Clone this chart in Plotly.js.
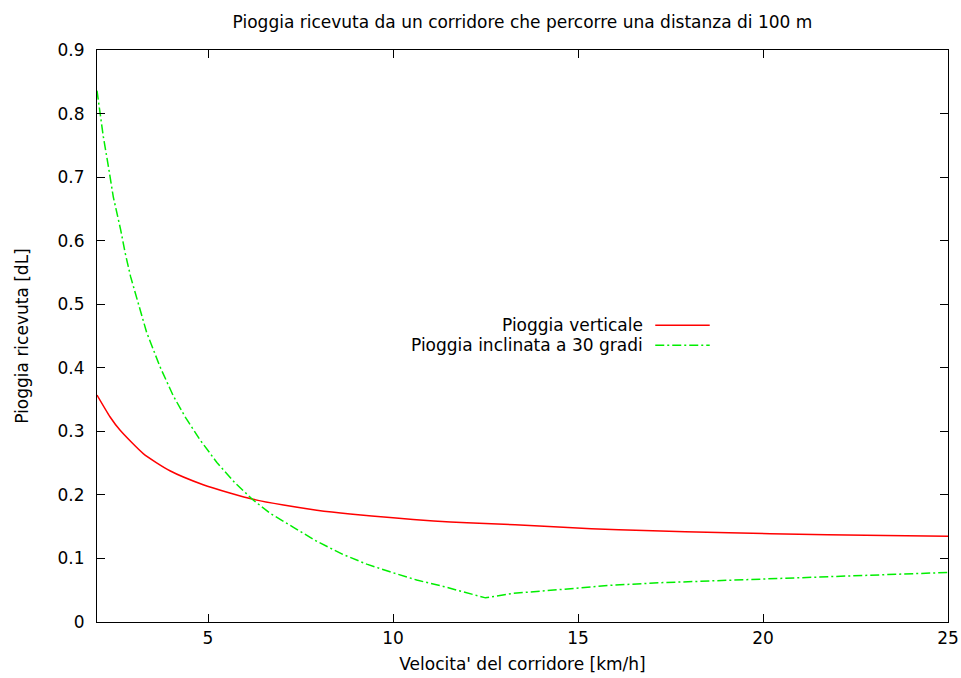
<!DOCTYPE html>
<html>
<head>
<meta charset="utf-8">
<script src="https://cdn.plot.ly/plotly-3.0.1.min.js"></script>
<style>html,body{margin:0;padding:0;background:#fff;}#chart{width:961px;height:678px;}</style>
</head>
<body>
<div id="chart"></div>
<script>
// Series names
const seriesNames = ["Pioggia verticale", "Pioggia inclinata a 30 gradi"];

// Pioggia verticale (speed km/h, rain dL)
const speedVert = [2.0, 2.35, 2.62, 3.25, 3.97, 4.87, 5.59, 6.22, 7.04, 7.94, 8.84, 10.0, 11.1, 12.0, 13.3, 14.6, 16.1, 17.9, 20.2, 23.3, 25.0];
const rainVert  = [0.357, 0.323, 0.302, 0.265, 0.238, 0.216, 0.203, 0.193, 0.184, 0.176, 0.170, 0.164, 0.159, 0.156, 0.153, 0.149, 0.145, 0.142, 0.139, 0.136, 0.135];

// Pioggia inclinata a 30 gradi
const speedIncl = [2.0, 2.17, 2.31, 2.44, 2.64, 2.76, 2.91, 3.12, 3.34, 3.70, 4.06, 4.38, 4.78, 5.24, 5.73, 6.22, 6.68, 7.31, 7.94, 8.66, 9.29, 9.92, 10.64, 11.36, 11.99, 12.5, 13.25, 14.6, 15.95, 17.3, 18.66, 20.0, 21.36, 22.71, 24.06, 25.0];
const rainIncl  = [0.836, 0.764, 0.716, 0.669, 0.617, 0.581, 0.543, 0.501, 0.456, 0.402, 0.356, 0.323, 0.287, 0.251, 0.219, 0.192, 0.171, 0.149, 0.127, 0.106, 0.091, 0.079, 0.066, 0.056, 0.046, 0.038, 0.045, 0.051, 0.058, 0.062, 0.065, 0.068, 0.071, 0.074, 0.077, 0.078];

const titleText = "Pioggia ricevuta da un corridore che percorre una distanza di 100 m";
const xTitle = "Velocita' del corridore [km/h]";
const yTitle = "Pioggia ricevuta [dL]";

const FONT = "DejaVu Sans, Liberation Sans, sans-serif";
const FS = 17;
const colors = ["#ff0000", "#00ee00"];
const dashes = ["solid", "9px,3px,2px,3px"];

const traces = [
  {x: speedVert, y: rainVert, name: seriesNames[0], type: "scatter", mode: "lines",
   line: {color: colors[0], width: 1.5, dash: dashes[0], shape: "spline", smoothing: 0.6}},
  {x: speedIncl, y: rainIncl, name: seriesNames[1], type: "scatter", mode: "lines",
   line: {color: colors[1], width: 1.5, dash: dashes[1]}}
];

// legend drawn gnuplot-style: text right-aligned, sample to the right
const legX = 0.644, legY = [0.519, 0.484], sampleX = [0.656, 0.720];
const annotations = seriesNames.map((n, i) => ({
  xref: "paper", yref: "paper", x: legX, y: legY[i], xanchor: "right", yanchor: "middle",
  text: n, showarrow: false, font: {family: FONT, size: FS, color: "#000"}
}));
const shapes = seriesNames.map((n, i) => ({
  type: "line", xref: "paper", yref: "paper", x0: sampleX[0], x1: sampleX[1], y0: legY[i], y1: legY[i],
  line: {color: colors[i], width: 1.5, dash: dashes[i]}
}));

const layout = {
  width: 961, height: 678,
  margin: {l: 97, r: 13, t: 50, b: 56},
  paper_bgcolor: "#fff", plot_bgcolor: "#fff",
  showlegend: false,
  font: {family: FONT, size: FS, color: "#000"},
  title: {text: titleText, x: 0.5, xref: "paper", y: 1 - 22/678, yref: "container", yanchor: "middle",
          font: {family: FONT, size: FS, color: "#000"}},
  xaxis: {range: [2, 25], tick0: 0, dtick: 5, ticks: "inside", ticklen: 8, tickcolor: "#000",
          showline: true, linecolor: "#000", linewidth: 1, mirror: "ticks", showgrid: false, zeroline: false,
          ticklabelstandoff: 1, tickfont: {family: FONT, size: FS},
          title: {text: xTitle, standoff: 10, font: {family: FONT, size: FS}}},
  yaxis: {range: [0, 0.9], tick0: 0, dtick: 0.1, ticks: "inside", ticklen: 8, tickcolor: "#000",
          showline: true, linecolor: "#000", linewidth: 1, mirror: "ticks", showgrid: false, zeroline: false,
          ticklabelstandoff: 8, tickfont: {family: FONT, size: FS},
          title: {text: yTitle, standoff: 24, font: {family: FONT, size: FS}}},
  annotations: annotations,
  shapes: shapes
};

Plotly.newPlot("chart", traces, layout, {displayModeBar: false, staticPlot: true});
</script>
</body>
</html>
